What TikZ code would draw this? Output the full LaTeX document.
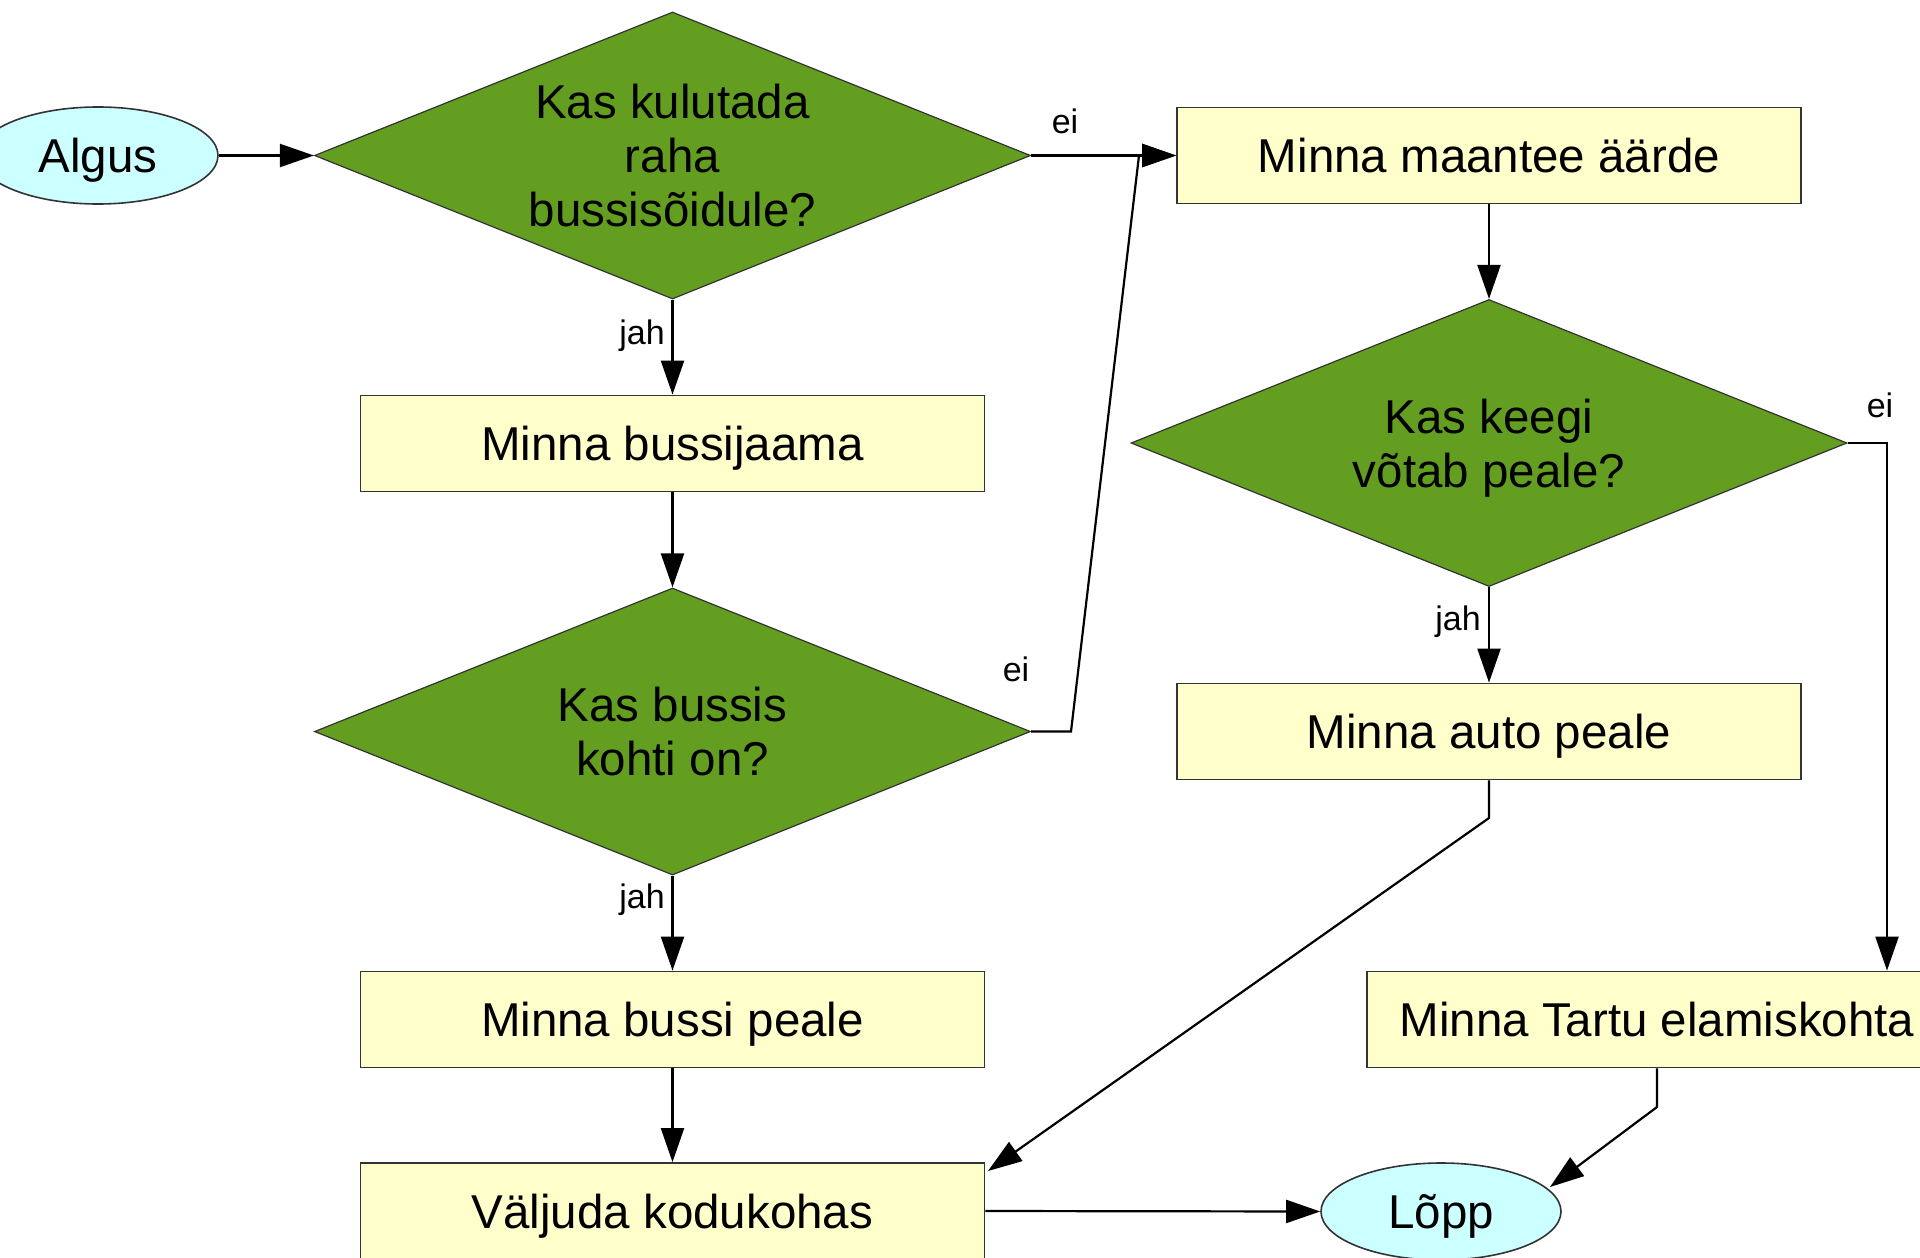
\documentclass[tikz,border=0pt]{standalone}
\usepackage{fontspec}
\setmainfont{Liberation Sans}
\usetikzlibrary{shapes.geometric,arrows.meta}
\definecolor{dgreen}{RGB}{99,158,32}
\definecolor{byellow}{RGB}{255,255,204}
\definecolor{ecyan}{RGB}{204,255,255}
\begin{document}
\begin{tikzpicture}[x=1pt,y=-1pt,
  box/.style={rectangle, draw=black!80, line width=1.8pt, fill=byellow, minimum width=624pt, minimum height=96pt, inner sep=0pt, text height=34pt, text depth=0pt, font=\fontsize{47.5}{55}\selectfont},
  dec/.style={diamond, draw=black!80, line width=1.2pt, fill=dgreen, aspect=2.49, minimum width=716pt, minimum height=287pt, inner sep=0pt, align=center, font=\fontsize{47.5}{54}\selectfont},
  term/.style={ellipse, draw=black!80, line width=1.6pt, fill=ecyan, minimum width=240pt, minimum height=97pt, inner sep=0pt, text height=34pt, text depth=0pt, font=\fontsize{47.5}{55}\selectfont},
  arr/.style={line width=2.2pt, draw=black, -{Triangle[length=34pt,width=23pt]}},
  lbl/.style={font=\fontsize{34}{40}\selectfont, inner sep=0pt}]
\clip (0,0) rectangle (1920,1258);
\fill[white] (0,0) rectangle (1920,1258);

% nodes
\node[term] (algus) at (98,155.5) {Algus};
\node[dec] (d1) at (672.5,155.5) {Kas kulutada\\raha\\bussisõidule?};
\node[box] (maantee) at (1489,155.5) {Minna maantee äärde};
\node[box] (bussijaama) at (672.5,443.5) {Minna bussijaama};
\node[dec] (d2) at (672.5,731.5) {Kas bussis\\kohti on?};
\node[dec, text depth=0pt] (d3) at (1489,443) {Kas keegi\\võtab peale?};
\node[box] (auto) at (1489,731.5) {Minna auto peale};
\node[box] (bussipeale) at (672.5,1019.5) {Minna bussi peale};
\node[box, minimum width=580pt] (tartu) at (1657,1019.5) {Minna Tartu elamiskohta};
\node[box] (valjuda) at (672.5,1211) {Väljuda kodukohas};
\node[term] (lopp) at (1441,1211.5) {Lõpp};

% helper coordinates
\coordinate (c1) at (1071,731.5);
\coordinate (c2) at (1139,155.5);
\coordinate (c3) at (1887,443);
\coordinate (c5) at (1489,818);
\coordinate (c6) at (988,1171);
\coordinate (c7) at (1657,1107);
\coordinate (c8) at (1550,1187);

% connectors
\draw[arr] (algus.east) -- (d1.west);
\draw[arr] (d1.east) -- (maantee.west);
\draw[arr] (d1.south) -- (bussijaama.north);
\draw[arr] (bussijaama.south) -- (d2.north);
\draw[arr] (d2.south) -- (bussipeale.north);
\draw[arr] (bussipeale.south) -- (valjuda.north);
\draw[arr] (d2.east) -- (c1) -- (c2) -- (maantee.west);
\draw[arr] (maantee.south) -- (d3.north);
\draw[arr] (d3.south) -- (auto.north);
\draw[arr] (d3.east) -- (c3) -- (c3 |- tartu.north);
\draw[arr] (auto.south) -- (c5) -- (c6);
\draw[arr] (tartu.south -| c7) -- (c7) -- (c8);
\draw[arr] (valjuda.east) -- (lopp.west);

% labels
\node[lbl] (l1) at (1065,121) {ei};
\node[lbl] (l2) at (642,336) {jah};
\node[lbl] (l3) at (1016,669) {ei};
\node[lbl] (l4) at (642,900) {jah};
\node[lbl] (l5) at (1880,405) {ei};
\node[lbl] (l6) at (1458,622) {jah};
\end{tikzpicture}
\end{document}
